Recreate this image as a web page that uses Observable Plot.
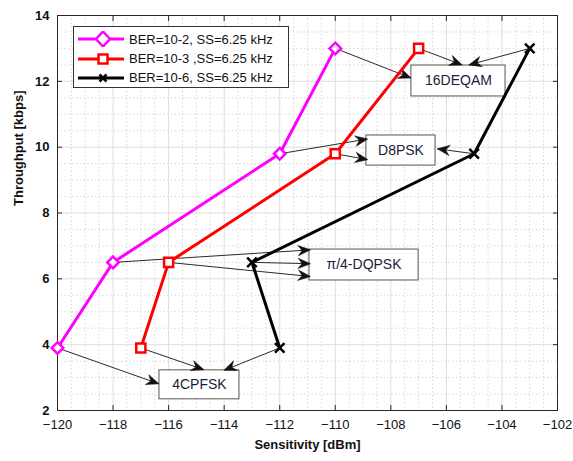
<!DOCTYPE html>
<html>
<head>
<meta charset="utf-8">
<script src="https://cdn.jsdelivr.net/npm/d3@7"></script>
<script src="https://cdn.jsdelivr.net/npm/@observablehq/plot@0.6"></script>
<style>
  html, body { margin: 0; padding: 0; background: #fff; }
  #wrap { position: relative; width: 573px; height: 461px; font-family: "Liberation Sans", Arial, sans-serif; }
  #legend { position: absolute; left: 73px; top: 26px; width: 216px; height: 62px; border: 1px solid #333; background: #fff; box-sizing: border-box; }
  .row { position: absolute; left: 0; height: 18px; display: flex; align-items: center; font-size: 13px; color: #111; white-space: nowrap; }
  .row svg { margin-left: 4px; margin-right: 5px; }
</style>
</head>
<body>
<div id="wrap"><div id="chart"></div><div id="legend"></div></div>
<script>
// ---- data ----
const throughput = [3.9, 6.5, 9.8, 13];
const sensBER2 = [-120, -118, -112, -110];
const sensBER3 = [-117, -116, -110, -107];
const sensBER6 = [-112, -113, -105, -103];
const seriesNames = ["BER=10-2, SS=6.25 kHz", "BER=10-3 ,SS=6.25 kHz", "BER=10-6, SS=6.25 kHz"];
const seriesColors = ["#ff00ff", "#ff0000", "#000000"];

// annotation labels (one per throughput level) and their boxes (data units)
const modulations = ["4CPFSK", "π/4-DQPSK", "D8PSK", "16DEQAM"];
const boxX1 = [-116.33, -110.93, -108.88, -107.26];
const boxX2 = [-113.45, -107.0, -106.39, -103.87];
const boxY1 = [2.34, 5.95, 9.44, 11.54];
const boxY2 = [3.22, 6.89, 10.355, 12.48];
// arrow tips per series (data units), one per throughput level
const tipX2 = [-116.35, -110.89, -108.83, -107.27];
const tipY2 = [2.81, 6.88, 10.25, 12.1];
const tipX3 = [-114.73, -110.89, -108.83, -105.43];
const tipY3 = [3.24, 6.07, 9.62, 12.5];
const tipX6 = [-114.01, -110.89, -106.33, -105.19];
const tipY6 = [3.22, 6.46, 9.95, 12.5];

const xTicks = d3.range(-120, -101, 2);
const yTicks = d3.range(2, 15, 2);
const xMinor = d3.range(-120, -101.9, 0.5).filter(v => !xTicks.includes(v));
const yMinor = d3.range(2, 14.01, 0.5).filter(v => !yTicks.includes(v));

// ---- layout ----
const W = 573, H = 461, mL = 57, mR = 16, mT = 15, mB = 51;
const kx = (W - mL - mR) / 18, ky = (H - mT - mB) / 12; // px per data unit (for arrowhead orientation only)

// ---- tables ----
const pts = [];
[sensBER2, sensBER3, sensBER6].forEach((xs, s) => xs.forEach((x, i) => pts.push({s, x, y: throughput[i]})));
const arrows = [];
[[sensBER2, tipX2, tipY2], [sensBER3, tipX3, tipY3], [sensBER6, tipX6, tipY6]].forEach(([xs, tx, ty]) =>
  xs.forEach((x, i) => {
    const dx = (tx[i] - x) * kx, dy = -(ty[i] - throughput[i]) * ky;
    arrows.push({x1: x, y1: throughput[i], x2: tx[i], y2: ty[i], angle: Math.atan2(dx, -dy) * 180 / Math.PI});
  }));
const boxes = modulations.map((m, i) => ({m, x1: boxX1[i], x2: boxX2[i], y1: boxY1[i], y2: boxY2[i]}));

// MATLAB-like filled arrowhead, tip at origin pointing up
const headSymbol = {
  draw(context) {
    const L = 12.5, w = 5.2, n = 8.5;
    context.moveTo(0, 0);
    context.lineTo(w, L);
    context.lineTo(0, n);
    context.lineTo(-w, L);
    context.closePath();
  }
};

const symbols = ["diamond2", "square2", "times"];
const radii = [5.2, 5.8, 4.4];

const markerMarks = [0, 1, 2].map(s =>
  Plot.dot(pts.filter(d => d.s === s), {x: "x", y: "y", symbol: symbols[s], r: radii[s], stroke: seriesColors[s], fill: s === 2 ? "none" : "#fff", strokeWidth: 2.5}));

const plot = Plot.plot({
  width: W, height: H,
  marginLeft: mL, marginRight: mR, marginTop: mT, marginBottom: mB,
  style: {fontFamily: "Liberation Sans, Arial, sans-serif", background: "#fff", overflow: "visible"},
  x: {domain: [-120, -102]},
  y: {domain: [2, 14]},
  marks: [
    Plot.ruleX(xMinor, {stroke: "#cfcfcf", strokeDasharray: "1.2,2.6", strokeWidth: 1}),
    Plot.ruleY(yMinor, {stroke: "#cfcfcf", strokeDasharray: "1.2,2.6", strokeWidth: 1}),
    Plot.ruleX(xTicks, {stroke: "#dedede", strokeWidth: 1}),
    Plot.ruleY(yTicks, {stroke: "#dedede", strokeWidth: 1}),
    Plot.frame({stroke: "#262626", strokeWidth: 1}),
    Plot.axisX(xTicks, {anchor: "bottom", tickSize: -5, tickPadding: 14, fontSize: 13, label: null, stroke: "#262626", fill: "#111"}),
    Plot.axisX(xTicks, {anchor: "top", tickSize: -5, fill: "none", label: null, stroke: "#262626"}),
    Plot.axisY(yTicks, {anchor: "left", tickSize: -5, tickPadding: 13, fontSize: 13, fontWeight: "bold", label: null, stroke: "#262626", fill: "#111"}),
    Plot.axisY(yTicks, {anchor: "right", tickSize: -5, fill: "none", label: null, stroke: "#262626"}),
    Plot.text(["Sensitivity [dBm]"], {frameAnchor: "bottom", dy: 38, fontSize: 13, fontWeight: "bold", fill: "#111"}),
    Plot.text(["Throughput [kbps]"], {frameAnchor: "left", rotate: -90, dx: -39, dy: -7, fontSize: 13, fontWeight: "bold", fill: "#111"}),
    Plot.link(arrows, {x1: "x1", y1: "y1", x2: "x2", y2: "y2", stroke: "#2a2a2a", strokeWidth: 1}),
    Plot.rect(boxes, {x1: "x1", x2: "x2", y1: "y1", y2: "y2", fill: "#fff", stroke: "#555", strokeWidth: 1}),
    Plot.text(boxes, {x: d => (d.x1 + d.x2) / 2, y: d => (d.y1 + d.y2) / 2, text: "m", fontSize: 14, fill: "#1c1c3a"}),
    Plot.dot(arrows, {x: "x2", y: "y2", symbol: headSymbol, rotate: "angle", fill: "#111", stroke: "#111", strokeWidth: 0.5, r: 5}),
    Plot.line(pts, {x: "x", y: "y", z: "s", stroke: d => seriesColors[d.s], strokeWidth: 3}),
    ...markerMarks
  ]
});
document.getElementById("chart").appendChild(plot);

// legend
const leg = document.getElementById("legend");
const symPaths = [
  `<path d="M25,0.5 L32,8 L25,15.5 L18,8 Z" fill="#fff" stroke="#ff00ff" stroke-width="2.5"/>`,
  `<rect x="20.5" y="3.5" width="9" height="9" fill="#fff" stroke="#ff0000" stroke-width="2.5"/>`,
  `<path d="M21.5,4.5 L28.5,11.5 M28.5,4.5 L21.5,11.5" stroke="#000" stroke-width="2.5"/>`
];
seriesNames.forEach((name, i) => {
  const row = document.createElement("div");
  row.className = "row";
  row.style.top = [3, 22.5, 41.5][i] + "px";
  row.innerHTML = `<svg width="46" height="16"><line x1="0" y1="8" x2="46" y2="8" stroke="${seriesColors[i]}" stroke-width="3"/>` +
    symPaths[i] + `</svg><span>${name}</span>`;
  leg.appendChild(row);
});
</script>
</body>
</html>
